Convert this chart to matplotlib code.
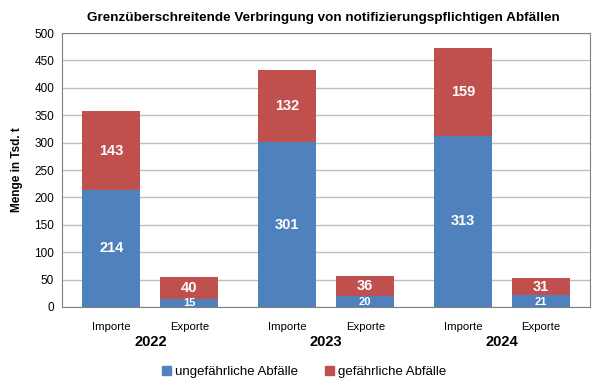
import matplotlib
matplotlib.use("Agg")
import matplotlib.pyplot as plt
from matplotlib.patches import Patch

plt.rcParams["font.family"] = ["Liberation Sans Narrow", "Liberation Sans", "DejaVu Sans"]

jahre = ["2022", "2023", "2024"]
richtung = ["Importe", "Exporte"]
ungefaehrlich = [214, 15, 301, 20, 313, 21]
gefaehrlich = [143, 40, 132, 36, 159, 31]

BLAU = "#4F81BD"
ROT = "#C0504D"

fig = plt.figure(figsize=(6, 3.88), dpi=100)
ax = fig.add_axes([0.104, 0.2088, 0.879, 0.706])

# Positionen: Gruppe je Jahr, darin Importe/Exporte
pos = []
for g in range(len(jahre)):
    for i in range(len(richtung)):
        pos.append(g * 2.256 + i)

breite = 0.744
ax.bar(pos, ungefaehrlich, width=breite, color=BLAU, zorder=3)
ax.bar(pos, gefaehrlich, width=breite, bottom=ungefaehrlich, color=ROT, zorder=3)

for x, u, gf in zip(pos, ungefaehrlich, gefaehrlich):
    klein = u < 30
    ax.text(x, u / 2 - (1 if klein else 0), str(u), ha="center", va="center",
            color="white", fontweight="bold", fontsize=8 if klein else 10.5, zorder=4)
    ax.text(x, u + gf / 2, str(gf), ha="center", va="center",
            color="white", fontweight="bold", fontsize=10.5, zorder=4)

ax.set_xlim(-0.628, 6.135)
ax.set_ylim(0, 500)
ax.set_yticks(range(0, 501, 50))
ax.tick_params(axis="y", labelsize=8.5, length=0, pad=6)
ax.set_xticks(pos)
ax.set_xticklabels(richtung * len(jahre), fontsize=8.2)
ax.tick_params(axis="x", length=0, pad=11)
ax.grid(axis="y", color="#BFBFBF", linewidth=1, zorder=0)
for s in ax.spines.values():
    s.set_color("#808080")

for g, j in enumerate(jahre):
    xm = g * 2.256 + 0.5
    ax.text(xm, -0.128, j, transform=ax.get_xaxis_transform(), ha="center", va="center",
            fontsize=10.5, fontweight="bold")

ax.set_ylabel("Menge in Tsd. t", fontsize=8.5, fontweight="bold", labelpad=8)
fig.text(0.539, 0.954, "Grenzüberschreitende Verbringung von notifizierungspflichtigen Abfällen",
         ha="center", va="center", fontsize=9.7, fontweight="bold")

handles = [Patch(color=BLAU, label="ungefährliche Abfälle"),
           Patch(color=ROT, label="gefährliche Abfälle")]
fig.legend(handles=handles, loc="center", bbox_to_anchor=(0.507, 0.041), ncol=2,
           frameon=False, fontsize=9.5, handlelength=0.7, handleheight=0.7,
           handletextpad=0.3, columnspacing=2.0)

fig.savefig("out.png", dpi=100)
